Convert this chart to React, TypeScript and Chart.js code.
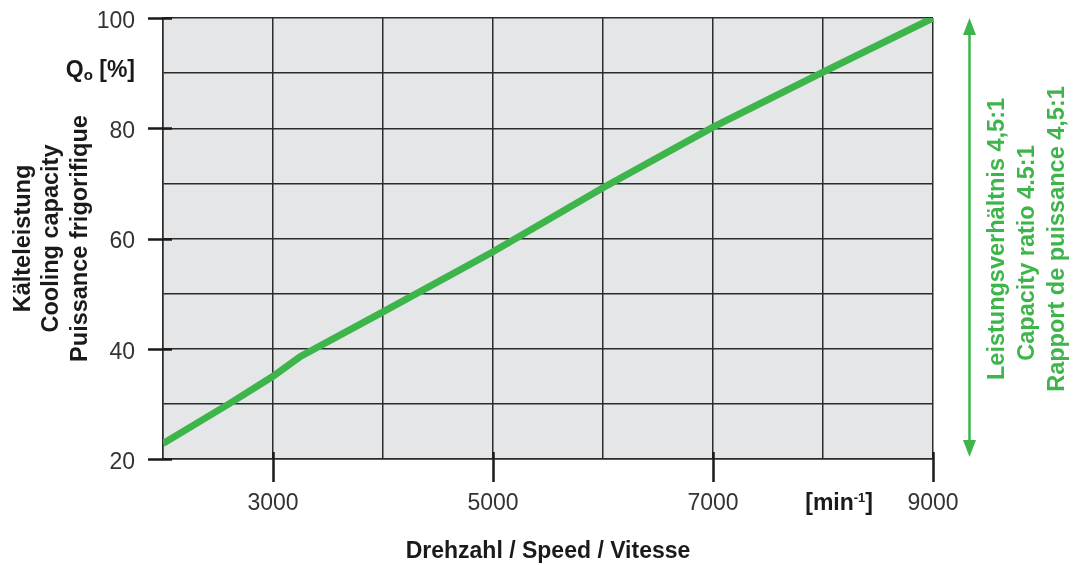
import React, { useEffect, useRef } from "react";
import { Chart, registerables } from "chart.js";

Chart.register(...registerables);

const speeds = [2000, 2600, 3000, 3250, 4000, 5000, 6000, 7000, 8000, 9000];
const capacity = [22.8, 30, 35, 38.6, 46.7, 57.6, 69.2, 80.2, 90.2, 100];
const xLabelTicks = [3000, 5000, 7000, 9000];
const yLabelTicks = [20, 40, 60, 80, 100];
const yTitleLines = ["Kälteleistung", "Cooling capacity", "Puissance frigorifique"];
const xTitle = "Drehzahl / Speed / Vitesse";
const ratioLines = ["Leistungsverhältnis 4,5:1", "Capacity ratio 4.5:1", "Rapport de puissance 4,5:1"];

const GREEN = "#3db54a";
const DARK = "#2b2b2b";
const FONT = "'Liberation Sans', Arial, sans-serif";

const decorPlugin = {
  id: "decor",
  beforeDraw(chart: any) {
    const { ctx, chartArea: a } = chart;
    ctx.save();
    ctx.fillStyle = "#e5e6e8";
    ctx.fillRect(a.left, a.top, a.right - a.left, a.bottom - a.top);
    ctx.restore();
  },
  afterDraw(chart: any) {
    const { ctx, chartArea: a, scales } = chart;
    const xs = scales.x;
    const ys = scales.y;
    ctx.save();
    // tick marks
    ctx.strokeStyle = "#1a1a1a";
    ctx.lineWidth = 2.5;
    yLabelTicks.forEach((v) => {
      const y = Math.round(ys.getPixelForValue(v)) + 0.5;
      ctx.beginPath();
      ctx.moveTo(a.left - 15, y);
      ctx.lineTo(a.left + 9, y);
      ctx.stroke();
    });
    xLabelTicks.forEach((v) => {
      const x = Math.round(xs.getPixelForValue(v)) + 0.5;
      ctx.beginPath();
      ctx.moveTo(x, a.bottom - 7);
      ctx.lineTo(x, a.bottom + 23);
      ctx.stroke();
    });

    // Qo [%]
    ctx.fillStyle = "#1a1a1a";
    ctx.textBaseline = "alphabetic";
    ctx.textAlign = "left";
    ctx.font = `bold 23px ${FONT}`;
    const qw = ctx.measureText("Q").width;
    ctx.font = `bold 15px ${FONT}`;
    const ow = ctx.measureText("o").width;
    ctx.font = `bold 23px ${FONT}`;
    const pw = ctx.measureText(" [%]").width;
    let x0 = 135 - (qw + ow + pw);
    ctx.fillText("Q", x0, 77);
    ctx.font = `bold 15px ${FONT}`;
    ctx.fillText("o", x0 + qw, 80);
    ctx.font = `bold 23px ${FONT}`;
    ctx.fillText(" [%]", x0 + qw + ow, 77);

    // [min-1]
    ctx.font = `bold 23px ${FONT}`;
    const w1 = ctx.measureText("[min").width;
    ctx.font = `bold 13px ${FONT}`;
    const w2 = ctx.measureText("-1").width;
    ctx.font = `bold 23px ${FONT}`;
    const w3 = ctx.measureText("]").width;
    x0 = 873 - (w1 + w2 + w3);
    ctx.fillText("[min", x0, 510);
    ctx.font = `bold 13px ${FONT}`;
    ctx.fillText("-1", x0 + w1, 502);
    ctx.font = `bold 23px ${FONT}`;
    ctx.fillText("]", x0 + w1 + w2, 510);

    // green double arrow
    const ax = 969.5;
    const top = a.top;
    const bot = a.bottom - 2;
    ctx.strokeStyle = GREEN;
    ctx.fillStyle = GREEN;
    ctx.lineWidth = 2.5;
    ctx.beginPath();
    ctx.moveTo(ax, top + 10);
    ctx.lineTo(ax, bot - 10);
    ctx.stroke();
    ctx.beginPath();
    ctx.moveTo(ax, top);
    ctx.lineTo(ax - 6.5, top + 17);
    ctx.lineTo(ax + 6.5, top + 17);
    ctx.closePath();
    ctx.fill();
    ctx.beginPath();
    ctx.moveTo(ax, bot);
    ctx.lineTo(ax - 6.5, bot - 17);
    ctx.lineTo(ax + 6.5, bot - 17);
    ctx.closePath();
    ctx.fill();

    // ratio text
    const centers = [
      [998, 239],
      [1028, 253],
      [1058, 239],
    ];
    ctx.font = `bold 23.5px ${FONT}`;
    ctx.textAlign = "center";
    ctx.textBaseline = "middle";
    ratioLines.forEach((t, i) => {
      ctx.save();
      ctx.translate(centers[i][0], centers[i][1]);
      ctx.rotate(-Math.PI / 2);
      ctx.fillText(t, 0, 0);
      ctx.restore();
    });
    ctx.restore();
  },
};

export default function App() {
  const ref = useRef<HTMLCanvasElement>(null);
  useEffect(() => {
    const chart = new Chart(ref.current as HTMLCanvasElement, {
      type: "line",
      data: {
        datasets: [
          {
            data: speeds.map((s, i) => ({ x: s, y: capacity[i] })),
            borderColor: GREEN,
            borderWidth: 7,
            pointRadius: 0,
            tension: 0,
            fill: false,
          },
        ],
      },
      options: {
        responsive: false,
        animation: false,
        layout: { padding: { left: 0, right: 145, top: 18, bottom: 0 } },
        plugins: { legend: { display: false }, tooltip: { enabled: false } },
        scales: {
          x: {
            type: "linear",
            min: 2000,
            max: 9000,
            afterFit: (s: any) => {
              s.height = 106;
              s.paddingLeft = 0;
              s.paddingRight = 0;
            },
            ticks: {
              stepSize: 1000,
              padding: 31,
              color: "#333",
              font: { family: FONT, size: 23 },
              maxRotation: 0,
              autoSkip: false,
              callback: (v: any) => (xLabelTicks.includes(Number(v)) ? String(v) : ""),
            },
            grid: { color: DARK, lineWidth: 1.5, drawTicks: false },
            border: { color: DARK, width: 1.5 },
            title: {
              display: true,
              text: xTitle,
              color: "#1a1a1a",
              font: { family: FONT, size: 23, weight: "bold" },
              padding: { top: 0, bottom: 0 },
            },
          },
          y: {
            min: 20,
            max: 100,
            afterFit: (s: any) => {
              s.width = 163;
              s.paddingTop = 0;
              s.paddingBottom = 0;
            },
            ticks: {
              stepSize: 10,
              padding: 28,
              labelOffset: 3.5,
              color: "#333",
              font: { family: FONT, size: 23 },
              autoSkip: false,
              callback: (v: any) => (yLabelTicks.includes(Number(v)) ? String(v) : ""),
            },
            grid: { color: DARK, lineWidth: 1.5, drawTicks: false },
            border: { color: DARK, width: 1.5 },
            title: {
              display: true,
              text: yTitleLines,
              color: "#1a1a1a",
              font: { family: FONT, size: 23.5, weight: "bold", lineHeight: "28.5px" },
              padding: { top: 9, bottom: 0 },
            },
          },
        },
      },
      plugins: [decorPlugin],
    } as any);
    return () => chart.destroy();
  }, []);
  return (
    <div style={{ position: "absolute", left: 0, top: 0, width: 1078, height: 565, background: "#fff" }}>
      <canvas ref={ref} width={1078} height={565} />
    </div>
  );
}
